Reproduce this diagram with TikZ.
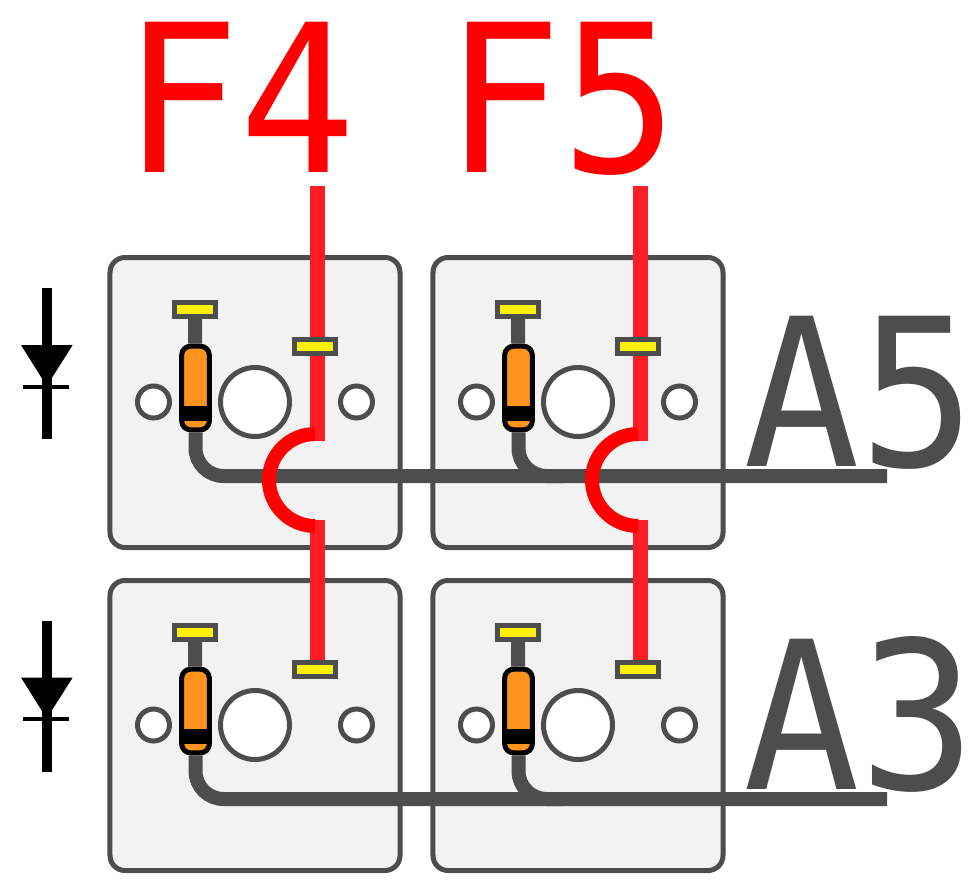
\documentclass[tikz,border=0pt]{standalone}
\usepackage{fontspec}
\setmainfont{DejaVu Sans Mono}
\usetikzlibrary{shapes, arrows.meta, positioning}

\begin{document}
\begin{tikzpicture}[
        x=0.03cm, y=-0.03cm,
        panel box/.style={draw=darkgrey, line width=0.15cm, rounded corners=0.45cm, fill=panelgrey, minimum size=8.7cm, inner sep=0pt},
        big hole/.style={draw=darkgrey, line width=0.15cm, circle, fill=white, minimum size=2.07cm, inner sep=0pt},
        small hole/.style={draw=darkgrey, line width=0.15cm, circle, fill=white, minimum size=0.96cm, inner sep=0pt},
        pad node/.style={draw=darkgrey, line width=0.15cm, fill=yellow, minimum width=1.23cm, minimum height=0.42cm, inner sep=0pt},
        resistor node/.style={draw=black, line width=0.15cm, rounded corners=0.27cm, fill=bodyorange, minimum width=0.83cm, minimum height=2.51cm, inner sep=0pt},
        band node/.style={fill=black, minimum width=0.83cm, minimum height=0.45cm, inner sep=0pt},
        grey wire/.style={draw=darkgrey, line width=0.42cm, rounded corners=0.84cm},
        red wire/.style={draw=wirered, line width=0.45cm},
        hop wire/.style={draw=red, line width=0.42cm},
        big label/.style={font=\fontsize{176}{176}\selectfont, inner sep=0pt, anchor=base west, xscale=0.94, transform shape},
        diode line/.style={draw=black, line width=0.29cm},
        diode bar/.style={draw=black, line width=0.12cm}
    ]
    \definecolor{darkgrey}{HTML}{4D4D4D}
    \definecolor{panelgrey}{HTML}{F2F2F2}
    \definecolor{bodyorange}{HTML}{FF931E}
    \definecolor{wirered}{HTML}{FF1D25}

    \useasboundingbox (0,0) rectangle (979,886);

    % Panels
    \node[panel box] (panel a) at (255,402.5) {};
    \node[panel box] (panel b) at (578,402.5) {};
    \node[panel box] (panel c) at (255,725.5) {};
    \node[panel box] (panel d) at (578,725.5) {};

    % Holes
    \node[big hole] (hole a) at (255,402) {};
    \node[small hole] (hole a left) at (153.5,402) {};
    \node[small hole] (hole a right) at (356.5,402) {};
    \node[big hole] (hole b) at (578,402) {};
    \node[small hole] (hole b left) at (476.5,402) {};
    \node[small hole] (hole b right) at (679.5,402) {};
    \node[big hole] (hole c) at (255,725) {};
    \node[small hole] (hole c left) at (153.5,725) {};
    \node[small hole] (hole c right) at (356.5,725) {};
    \node[big hole] (hole d) at (578,725) {};
    \node[small hole] (hole d left) at (476.5,725) {};
    \node[small hole] (hole d right) at (679.5,725) {};

    % Pads and resistors
    \node[pad node] (pad a top) at (195,309.5) {};
    \node[pad node] (pad b top) at (518,309.5) {};
    \node[pad node] (pad c top) at (195,632.5) {};
    \node[pad node] (pad d top) at (518,632.5) {};
    \node[resistor node] (res a) at (195.5,388) {};
    \node[resistor node] (res b) at (518.5,388) {};
    \node[resistor node] (res c) at (195.5,711) {};
    \node[resistor node] (res d) at (518.5,711) {};

    % Line ends
    \coordinate (a5 end) at (887,476);
    \coordinate (a5 join) at (564,476);
    \coordinate (a3 end) at (887,799);
    \coordinate (a3 join) at (564,799);
    \coordinate (f4 start) at (317.5,186);
    \coordinate (f5 start) at (640.5,186);
    \coordinate (f4 hop) at (317.5,441);
    \coordinate (f5 hop) at (640.5,441);
    \coordinate (f4 back) at (317.5,520);
    \coordinate (f5 back) at (640.5,520);

    % Grey wires
    \draw[grey wire] (pad a top) -- (res a);
    \draw[grey wire] (pad b top) -- (res b);
    \draw[grey wire] (pad c top) -- (res c);
    \draw[grey wire] (pad d top) -- (res d);
    \draw[grey wire] (res a.south) |- (a5 join);
    \draw[grey wire] (res b.south) |- (a5 end);
    \draw[grey wire] (res c.south) |- (a3 join);
    \draw[grey wire] (res d.south) |- (a3 end);

    % Red wires
    \draw[red wire] (f4 start) -- (f4 hop);
    \draw[red wire] (f5 start) -- (f5 hop);
    \draw[red wire] (f4 back) -- (317.5,669);
    \draw[red wire] (f5 back) -- (640.5,669);
    \draw[hop wire] (315,434) arc[start angle=-90, end angle=-270, radius=46];
    \draw[hop wire] (638,434) arc[start angle=-90, end angle=-270, radius=46];

    % Pads on the red wires
    \node[pad node] (pad a) at (315,346.5) {};
    \node[pad node] (pad b) at (638,346.5) {};
    \node[pad node] (pad c) at (315,669.5) {};
    \node[pad node] (pad d) at (638,669.5) {};

    % Bands on the resistors
    \node[band node] (band a) at (195.5,413.5) {};
    \node[band node] (band b) at (518.5,413.5) {};
    \node[band node] (band c) at (195.5,736.5) {};
    \node[band node] (band d) at (518.5,736.5) {};

    % Diodes
    \draw[diode line] (46.7,288) -- (46.7,439);
    \fill[black] (21,345) -- (72.7,345) -- (46.7,386) -- cycle;
    \draw[diode bar] (23,386.5) -- (69,386.5);
    \draw[diode line] (46.7,620.5) -- (46.7,771.5);
    \fill[black] (21,677.5) -- (72.7,677.5) -- (46.7,718.5) -- cycle;
    \draw[diode bar] (23,719) -- (69,719);

    % Labels
    \node[big label, text=red] (f4) at (123,172) {F4};
    \node[big label, text=red] (f5) at (445,172) {F5};
    \node[big label, text=darkgrey] (a5) at (743,466) {A5};
    \node[big label, text=darkgrey] (a3) at (743,789) {A3};
\end{tikzpicture}
\end{document}
